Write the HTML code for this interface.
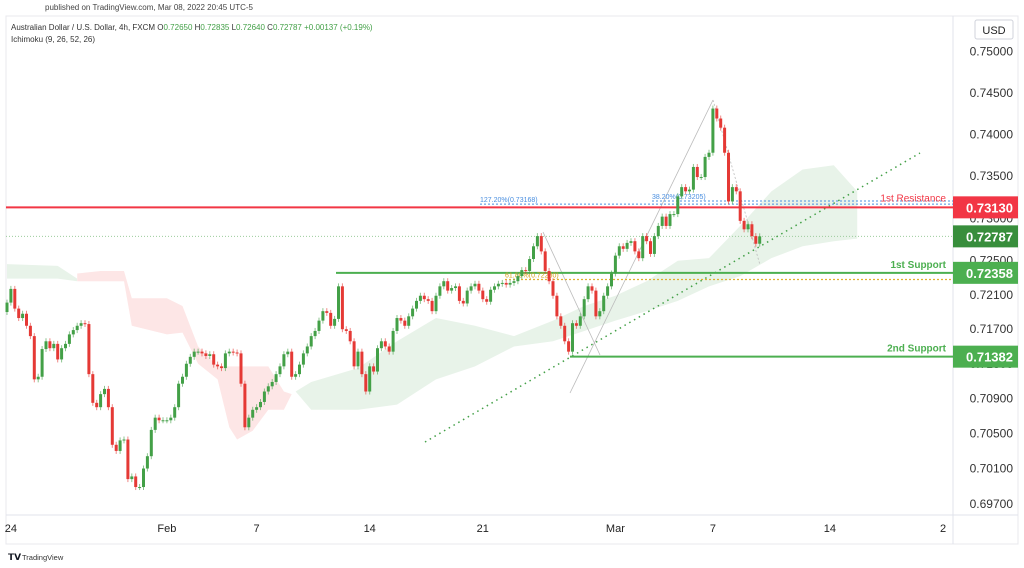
<!DOCTYPE html>
<html><head><meta charset="utf-8">
<style>
body{margin:0;background:#fff;width:1024px;height:568px;overflow:hidden;font-family:"Liberation Sans",sans-serif}
svg{position:absolute;left:0;top:0}
</style></head>
<body>
<svg width="1024" height="568" id="chart">
  <rect x="6" y="16" width="1012" height="528" fill="#fff" stroke="#e8e8ee"/>
  <line x1="953" y1="16" x2="953" y2="544" stroke="#e0e3eb"/>
  <line x1="6" y1="515" x2="1018" y2="515" stroke="#e0e3eb"/>
  <g id="cloud"></g>
  <g id="levels"></g>
  <g id="candles"></g>
  <g id="axes"></g>
  <text x="45" y="10" font-size="8" fill="#444">published on TradingView.com, Mar 08, 2022 20:45 UTC-5</text>
  <text x="11" y="30" font-size="8" fill="#333">Australian Dollar / U.S. Dollar, 4h, FXCM  O<tspan fill="#43a047">0.72650</tspan>  H<tspan fill="#43a047">0.72835</tspan>  L<tspan fill="#43a047">0.72640</tspan>  C<tspan fill="#43a047">0.72787</tspan>  <tspan fill="#43a047">+0.00137 (+0.19%)</tspan></text>
  <text x="11" y="42" font-size="8" fill="#333">Ichimoku (9, 26, 52, 26)</text>
  <rect x="975" y="20" width="38" height="19" rx="2" fill="#fff" stroke="#d0d3db"/>
  <text x="994" y="34" font-size="11" fill="#222" text-anchor="middle">USD</text>
  <text x="8" y="560" font-size="9" font-weight="bold" fill="#131722">𝗧𝗩</text>
  <text x="22" y="560" font-size="7.5" fill="#333">TradingView</text>
</svg>
<script>
const closes=[0.7201,0.7217,0.7194,0.7183,0.7188,0.7174,0.7162,0.7112,0.7115,0.7147,0.7156,0.7148,0.7153,0.7135,0.7148,0.7153,0.7164,0.7169,0.7174,0.7177,0.7176,0.7118,0.7085,0.7080,0.7095,0.7101,0.7080,0.7037,0.7030,0.7042,0.7043,0.6998,0.7001,0.6989,0.6989,0.7010,0.7024,0.7054,0.7068,0.7065,0.7065,0.7065,0.7068,0.7080,
0.7107,0.7115,0.7130,0.7138,0.7144,0.7144,0.7142,0.7139,0.7141,0.7129,0.7127,0.7125,0.7142,0.7144,0.7143,0.7142,0.7107,0.7057,0.7068,0.7077,0.7080,0.7086,0.7098,0.7104,0.7109,0.7118,0.7127,0.7141,0.7144,0.7115,0.7118,0.7129,0.7142,0.7150,0.7162,0.7168,0.7180,0.7191,0.7189,0.7174,0.7182,0.7220,0.7170,0.7168,0.7156,0.7127,
0.7144,0.7118,0.7098,0.7127,0.7121,0.7148,0.7156,0.7150,0.7144,0.7168,0.7183,0.7180,0.7174,0.7185,0.7194,0.7203,0.7209,0.7205,0.7203,0.7191,0.7209,0.7220,0.7226,0.7215,0.7218,0.7220,0.7203,0.7200,0.7215,0.7220,0.7223,0.7215,0.7205,0.7202,0.7216,0.7220,0.7223,0.7224,0.7222,0.7224,0.7226,0.7232,0.7239,0.7238,0.7252,0.7267,0.7279,0.7261,0.7238,0.7226,0.7209,0.7185,0.7174,0.7156,0.7144,
0.7177,0.7174,0.7185,0.7205,0.7220,0.7215,0.7185,0.7191,0.7209,0.7220,0.7235,0.7256,0.7267,0.7264,0.7271,0.7273,0.7261,0.7253,0.7279,0.7273,0.7258,0.7279,0.7291,0.7302,0.7291,0.7305,0.7305,0.7326,0.7337,0.7332,0.7334,0.7361,0.7349,0.7349,0.7373,0.7378,0.7431,0.7419,0.7408,0.7378,0.7320,0.7337,0.7332,0.7297,0.7287,0.7293,0.7279,0.7270,0.72787];
const firstOpen=0.7190;
const priceTicks=[0.75000,0.74500,0.74000,0.73500,0.73000,0.72500,0.72100,0.71700,0.71300,0.70900,0.70500,0.70100,0.69700];
const timeLabels=["24","Feb","7","14","21","Mar","7","14","2"];
const timeLabelIdx=[1,41,64,93,122,156,181,211,240];
const greenCloudAIdx=[0,13,18];
const greenCloudATop=[0.7246,0.7244,0.7229];
const greenCloudABot=[0.7229,0.7229,0.7226];
const redCloudIdx=[18,24,30,32,41,45,49,54,57,59,63,67,71,73];
const redCloudTop=[0.7235,0.7238,0.7238,0.7206,0.7206,0.7197,0.7150,0.7127,0.7127,0.7127,0.7127,0.7127,0.7098,0.7095];
const redCloudBot=[0.7226,0.7226,0.7226,0.7174,0.7164,0.7166,0.7130,0.7112,0.7057,0.7043,0.7053,0.7077,0.7077,0.7095];
const greenCloudIdx=[74,78,90,100,110,120,130,140,148,156,164,172,180,188,196,204,212,218];
const greenCloudTop=[0.7098,0.7109,0.7125,0.7156,0.7183,0.7174,0.7162,0.7180,0.7197,0.7209,0.7226,0.7250,0.7253,0.7291,0.7332,0.7358,0.7363,0.7332];
const greenCloudBot=[0.7098,0.7077,0.7077,0.7083,0.7112,0.7127,0.7150,0.7156,0.7168,0.7180,0.7191,0.7203,0.7220,0.7232,0.7253,0.7267,0.7273,0.7276];
const resistance=0.73130, support1=0.72358, support2=0.71382, lastPrice=0.72787, fib127=0.73168, fib38=0.73205, fib618=0.72280;

const NS="http://www.w3.org/2000/svg";
const y=p=>51.5+6172*Math.log(0.75/p);
const x=i=>7+i*3.9;
function mk(tag,attrs,parent){const e=document.createElementNS(NS,tag);for(const k in attrs)e.setAttribute(k,attrs[k]);parent.appendChild(e);return e;}
const gC=document.getElementById('cloud'),gL=document.getElementById('levels'),gK=document.getElementById('candles'),gA=document.getElementById('axes');

function cloud(idx,top,bot,fill,name){
  let pts=idx.map((i,k)=>x(i)+','+y(top[k]));
  for(let k=idx.length-1;k>=0;k--)pts.push(x(idx[k])+','+y(bot[k]));
  const p=mk('polygon',{points:pts.join(' '),fill:fill},gC);
  
  
}
cloud(greenCloudAIdx,greenCloudATop,greenCloudABot,'#e8f3e9','cloud-bullish-early');
cloud(redCloudIdx,redCloudTop,redCloudBot,'#fde6e6','cloud-bearish');
cloud(greenCloudIdx,greenCloudTop,greenCloudBot,'#e8f3e9','cloud-bullish');

function line(x1,y1,x2,y2,st,w,dash,name){const l=mk('line',{x1,y1,x2,y2,stroke:st,'stroke-width':w},gL);if(dash)l.setAttribute('stroke-dasharray',dash);
  
  return l;}
line(6,y(lastPrice),953,y(lastPrice),'#9ccc9c',1,'1,2','last-price-line');
line(543,232,600,355,'#bbb',0.8,null,'fib-leg-1');
line(570,393,713,100,'#bbb',0.8,null,'fib-leg-2');
line(713,100,760,265,'#bbb',0.8,'2,2','fib-leg-3');
line(425,442,920,153,'#43a047',1.5,'1.5,4','trendline');
line(480,y(fib127),953,y(fib127),'#4a8fe0',1,'2,2','fib-127-line');
line(652,y(fib38),953,y(fib38),'#4a8fe0',1,'2,2','fib-38-line');
line(505,y(fib618),953,y(fib618),'#e0b030',1.3,'2,2','fib-618-line');
line(6,y(resistance),953,y(resistance),'#f23645',2,null,'resistance-line');
line(336,y(support1),953,y(support1),'#4caf50',2,null,'support1-line');
line(570,y(support2),953,y(support2),'#4caf50',2,null,'support2-line');

function txt(s,tx,ty,fs,fill,anchor,name,parent,weight){const t=mk('text',{x:tx,y:ty,'font-size':fs,fill:fill,'text-anchor':anchor||'start'},parent||gL);if(weight)t.setAttribute('font-weight',weight);t.textContent=s;
  
  return t;}
txt('127.20%(0.73168)',480,y(fib127)-2,7,'#4a8fe0','start','fib-127-label');
txt('38.20%(0.73205)',652,y(fib38)-2,7,'#4a8fe0','start','fib-38-label');
txt('61.80%(0.72280)',505,y(fib618)-2,7,'#d4a020','start','fib-618-label');
txt('1st Resistance',946,y(resistance)-6,10,'#f23645','end','resistance-label');
txt('1st Support',946,y(support1)-5,10,'#4caf50','end','support1-label',null,'bold');
txt('2nd Support',946,y(support2)-5,10,'#4caf50','end','support2-label',null,'bold');

let prev=firstOpen;
closes.forEach((c,i)=>{
  const o=prev;prev=c;const up=c>=o;const col=up?'#43a047':'#e53935';
  const top=y(Math.max(o,c)),bot=y(Math.min(o,c));const cx=x(i);
  const w=mk('line',{x1:cx,y1:top-3,x2:cx,y2:bot+3,stroke:col,'stroke-width':1,opacity:0.6},gK);
  
  
  const b=mk('rect',{x:cx-1.5,y:top,width:3,height:Math.max(1,bot-top),fill:col},gK);
  
  
});

priceTicks.forEach(p=>{txt(p.toFixed(5),1013,y(p)+4,12,'#333','end','price-tick',gA);});
timeLabels.forEach((s,k)=>{txt(s,x(timeLabelIdx[k]),532,11,'#222','middle','time-tick',gA);});

function tag(p,fill,name){const r=mk('rect',{x:953,y:y(p)-11,width:65,height:22,fill:fill},gA);
  
  
  txt(p.toFixed(5),1013,y(p)+5,13,'#fff','end',name+'-text',gA,'bold');}
tag(resistance,'#f23645','resistance-tag');
tag(lastPrice,'#388e3c','last-price-tag');
tag(support1,'#4caf50','support1-tag');
tag(support2,'#4caf50','support2-tag');
</script>
</body></html>
